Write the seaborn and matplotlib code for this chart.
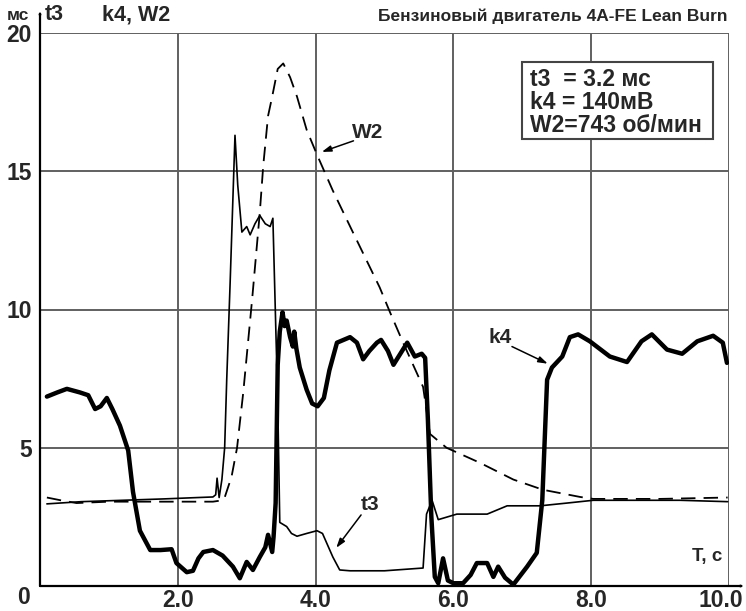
import matplotlib
matplotlib.use("Agg")
import matplotlib.pyplot as plt
import matplotlib.transforms as mtransforms
import seaborn as sns
import pandas as pd
from matplotlib.patches import Rectangle

# ---------------- data ----------------
k4_t = [0.10, 0.25, 0.39, 0.58, 0.70, 0.80, 0.88, 0.97, 1.05, 1.16, 1.28, 1.35, 1.45,
        1.60, 1.75, 1.91, 1.98, 2.13, 2.22, 2.30, 2.37, 2.51, 2.65, 2.80, 2.90, 3.00,
        3.09, 3.19, 3.27, 3.31, 3.37, 3.39, 3.42, 3.45, 3.48, 3.52, 3.55, 3.58, 3.63,
        3.67, 3.69, 3.72, 3.77, 3.87, 3.95, 4.03, 4.12, 4.20, 4.31, 4.50, 4.60, 4.69,
        4.78, 4.89, 4.95, 5.05, 5.13, 5.23, 5.33, 5.44, 5.54, 5.59, 5.63, 5.68, 5.73,
        5.78, 5.85, 5.92, 6.00, 6.14, 6.25, 6.34, 6.49, 6.58, 6.65, 6.75, 6.87, 7.07,
        7.21, 7.29, 7.36, 7.43, 7.58, 7.69, 7.81, 7.98, 8.27, 8.52, 8.73, 8.88, 9.10,
        9.32, 9.54, 9.77, 9.91, 9.97]
k4_v = [6.85, 7.00, 7.13, 7.00, 6.90, 6.40, 6.50, 6.80, 6.40, 5.80, 4.90, 3.40, 2.00,
        1.30, 1.30, 1.33, 0.83, 0.50, 0.55, 1.00, 1.23, 1.30, 1.10, 0.70, 0.28, 0.87,
        0.58, 1.05, 1.40, 1.85, 1.23, 1.78, 3.00, 8.00, 9.20, 9.90, 9.40, 9.60, 9.00,
        8.66, 9.20, 8.60, 7.90, 7.10, 6.60, 6.50, 6.80, 7.80, 8.80, 9.00, 8.80, 8.20,
        8.50, 8.80, 8.90, 8.50, 8.00, 8.40, 8.80, 8.30, 8.40, 8.25, 6.00, 2.50, 0.33,
        0.10, 1.00, 0.20, 0.10, 0.10, 0.40, 0.83, 0.83, 0.33, 0.70, 0.30, 0.05, 0.70,
        1.20, 3.10, 7.46, 7.90, 8.30, 9.00, 9.10, 8.85, 8.30, 8.10, 8.85, 9.10, 8.55,
        8.40, 8.85, 9.05, 8.80, 8.07]

t3_t = [0.10, 0.60, 1.20, 1.80, 2.30, 2.51, 2.55, 2.57, 2.60, 2.64, 2.68, 2.71, 2.76,
        2.83, 2.87, 2.93, 3.00, 3.05, 3.12, 3.19, 3.27, 3.34, 3.38, 3.45, 3.48, 3.58,
        3.65, 3.73, 3.87, 4.02, 4.10, 4.25, 4.35, 4.50, 5.00, 5.56, 5.61, 5.69, 5.78,
        6.05, 6.49, 6.78, 7.26, 7.65, 8.03, 9.29, 9.98]
t3_v = [2.97, 3.05, 3.10, 3.15, 3.20, 3.22, 3.30, 3.90, 3.20, 3.85, 5.00, 7.46, 11.0,
        16.3, 14.5, 12.8, 13.0, 12.7, 13.1, 13.4, 13.1, 13.0, 13.3, 6.70, 2.30, 2.15,
        1.90, 1.80, 1.90, 2.00, 1.90, 1.05, 0.58, 0.55, 0.55, 0.65, 2.60, 3.10, 2.40,
        2.60, 2.60, 2.90, 2.90, 3.00, 3.10, 3.10, 3.05]

w2_t = [0.10, 0.30, 0.53, 1.00, 1.50, 2.00, 2.51, 2.65, 2.68, 2.78, 2.86, 2.95, 3.08,
        3.19, 3.24, 3.31, 3.37, 3.45, 3.53, 3.63, 3.73, 3.87, 4.02, 4.25, 4.54, 4.93,
        5.08, 5.27, 5.56, 5.66, 5.90, 6.39, 6.87, 7.30, 7.84, 8.03, 9.00, 9.98]
w2_v = [3.20, 3.10, 3.00, 3.05, 3.05, 3.05, 3.05, 3.10, 3.20, 3.95, 5.00, 7.00, 10.4,
        13.5, 15.2, 17.0, 17.7, 18.7, 18.9, 18.4, 17.7, 16.5, 15.6, 14.3, 12.8, 10.8,
        9.90, 8.80, 7.20, 5.50, 5.00, 4.45, 3.85, 3.48, 3.22, 3.15, 3.15, 3.20]

x_ticks = [2, 4, 6, 8, 10]
x_tick_labels = ["2.0", "4.0", "6.0", "8.0", "10.0"]
y_ticks = [5, 10, 15, 20]
y_tick_labels = ["5", "10", "15", "20"]

title_text = "Бензиновый двигатель 4A-FE Lean Burn"
info_lines = ["t3  = 3.2 мс", "k4 = 140мВ", "W2=743 об/мин"]

# ---------------- style ----------------
sns.set_style("white")
plt.rcParams['font.family'] = ['Liberation Sans', 'DejaVu Sans']
plt.rcParams['font.weight'] = 'bold'

W, H = 746, 611
fig = plt.figure(figsize=(W / 100, H / 100), dpi=100)
fig.patch.set_facecolor('white')


def fx(px):
    return px / W


def fy(py):
    return 1 - py / H


ax = fig.add_axes([fx(40), fy(586), fx(729) - fx(40), fy(33) - fy(586)])
ax.set_facecolor('white')

df_k4 = pd.DataFrame({"t": k4_t, "v": k4_v})
df_t3 = pd.DataFrame({"t": t3_t, "v": t3_v})
df_w2 = pd.DataFrame({"t": w2_t, "v": w2_v})

sns.lineplot(data=df_w2, x="t", y="v", ax=ax, color="black", lw=1.3,
             linestyle=(0, (8, 4.5)), sort=False, estimator=None, zorder=3)
sns.lineplot(data=df_t3, x="t", y="v", ax=ax, color="black", lw=1.2,
             sort=False, estimator=None, zorder=4)
sns.lineplot(data=df_k4, x="t", y="v", ax=ax, color="black", lw=3.2,
             sort=False, estimator=None, zorder=5, solid_joinstyle='round')

ax.set_xlim(0, 10)
ax.set_ylim(0, 20)
ax.set_xticks(x_ticks)
ax.set_xticklabels(x_tick_labels)
ax.set_yticks(y_ticks)
ax.set_yticklabels(y_tick_labels)
ax.tick_params(axis='both', length=0, labelsize=16.5)
ax.tick_params(axis='y', pad=6)
ax.tick_params(axis='x', pad=2)
for lab in ax.get_xticklabels() + ax.get_yticklabels():
    lab.set_fontweight('bold')
# the last x label sits slightly left so it stays inside the picture
last_lab = ax.get_xticklabels()[-1]
last_lab.set_transform(last_lab.get_transform() +
                       mtransforms.ScaledTranslation(-8 / 100, 0, fig.dpi_scale_trans))
ax.set_xlabel("")
ax.set_ylabel("")
ax.grid(True, color="#606060", lw=1.4)
ax.set_axisbelow(True)
for s in ax.spines.values():
    s.set_visible(False)

# axis lines with arrows
arrow_kw = dict(arrowstyle='-|>,head_length=0.7,head_width=0.22', lw=1.6,
                color='black', shrinkA=0, shrinkB=0)
fig.add_artist(matplotlib.patches.FancyArrowPatch(
    (fx(40), fy(586)), (fx(40), fy(10)), transform=fig.transFigure, **arrow_kw))
fig.add_artist(matplotlib.patches.FancyArrowPatch(
    (fx(40), fy(586)), (fx(745), fy(586)), transform=fig.transFigure, **arrow_kw))

# texts
fig.text(fx(23), fy(597), "0", ha='center', va='center', fontsize=16.5, fontweight='bold')
fig.text(fx(18), fy(16), "мс", ha='center', va='center', fontsize=12.5, fontweight='bold')
fig.text(fx(54), fy(15), "t3", ha='center', va='center', fontsize=15.5, fontweight='bold')
fig.text(fx(136), fy(15), "k4, W2", ha='center', va='center', fontsize=15.5, fontweight='bold')
fig.text(fx(728), fy(16), title_text, ha='right', va='center', fontsize=12.5, fontweight='bold')
fig.text(fx(707), fy(556), "T, c", ha='center', va='center', fontsize=13.5, fontweight='bold')

# info box
fig.add_artist(Rectangle((fx(522), fy(139)), fx(713) - fx(522), fy(62) - fy(139),
                         transform=fig.transFigure, facecolor='white',
                         edgecolor='#444444', lw=1.5, zorder=6))
for i, line in enumerate(info_lines):
    fig.text(fx(530), fy(86 + 23 * i), line, ha='left', va='baseline',
             fontsize=16.5, fontweight='bold', zorder=7)

# curve labels with arrows
lab_arrow = dict(arrowstyle='-|>,head_length=0.55,head_width=0.18', lw=1.1,
                 color='black', shrinkA=0, shrinkB=0)
ax.text(4.75, 16.4, "W2", ha='center', va='center', fontsize=15, fontweight='bold')
ax.annotate("", xy=(4.09, 15.7), xytext=(4.55, 16.1), arrowprops=lab_arrow)
ax.text(6.68, 8.99, "k4", ha='center', va='center', fontsize=15, fontweight='bold')
ax.annotate("", xy=(7.37, 8.04), xytext=(6.85, 8.66), arrowprops=lab_arrow)
ax.text(4.79, 2.93, "t3", ha='center', va='center', fontsize=15, fontweight='bold')
ax.annotate("", xy=(4.30, 1.38), xytext=(4.66, 2.57), arrowprops=lab_arrow)

fig.savefig("out.png", dpi=100, facecolor='white')
